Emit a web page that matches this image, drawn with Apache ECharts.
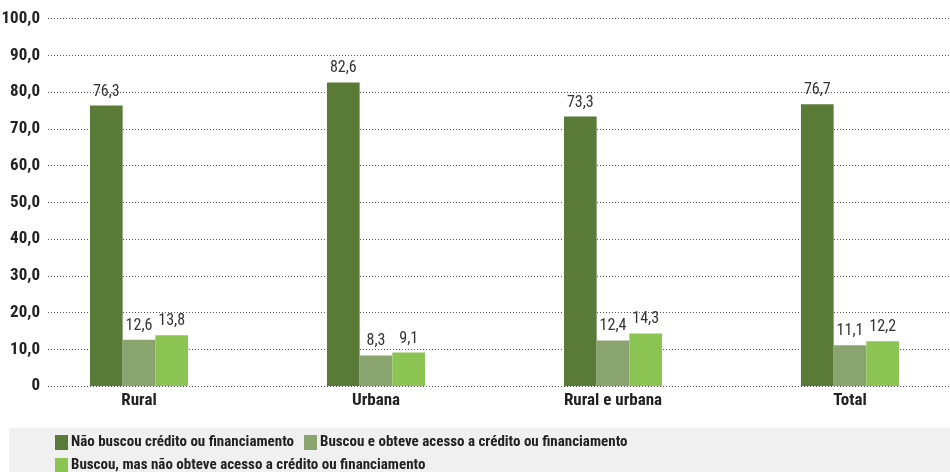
<!DOCTYPE html>
<html>
<head>
<meta charset="utf-8">
<script src="https://cdn.jsdelivr.net/npm/echarts@6/dist/echarts.min.js"></script>
<style>
html,body{margin:0;padding:0;background:#fff;}
#chart{width:950px;height:472px;}
</style>
</head>
<body>
<div id="chart"></div>
<script>
var categories = ['Rural', 'Urbana', 'Rural e urbana', 'Total'];
var seriesNames = [
  'Não buscou crédito ou financiamento',
  'Buscou e obteve acesso a crédito ou financiamento',
  'Buscou, mas não obteve acesso a crédito ou financiamento'
];
var naoBuscou = [76.3, 82.6, 73.3, 76.7];
var buscouObteve = [12.6, 8.3, 12.4, 11.1];
var buscouNaoObteve = [13.8, 9.1, 14.3, 12.2];
var yTickLabels = ['0', '10,0', '20,0', '30,0', '40,0', '50,0', '60,0', '70,0', '80,0', '90,0', '100,0'];

var colors = ['#5a7b38', '#8aa46f', '#8bc452'];
var FONT = '"Roboto Condensed", "Open Sans Condensed", sans-serif';

var chart = echarts.init(document.getElementById('chart'));
function fmt(v) { return v.toFixed(1).replace('.', ','); }
var seriesData = [naoBuscou, buscouObteve, buscouNaoObteve];

var legendBase = {
  left: 50, itemWidth: 13, itemHeight: 15, itemGap: 10, icon: 'rect',
  textStyle: { fontFamily: FONT, fontWeight: 'bold', fontSize: 15, color: '#222', padding: [0, 0, 0, -2] }
};

chart.setOption({
  animation: false,
  color: colors,
  graphic: [{
    type: 'rect', left: 9, top: 428, silent: true, z: -10,
    shape: { width: 941, height: 44 },
    style: { fill: '#eff0ef' }
  }],
  legend: [
    Object.assign({}, legendBase, { top: 430, data: [seriesNames[0], seriesNames[1]] }),
    Object.assign({}, legendBase, { top: 453, data: [seriesNames[2]] })
  ],
  grid: [
    { left: 48, right: 0, top: 18.5, height: 367.5, containLabel: false, outerBoundsMode: 'none' },
    { left: 20.5, width: 948, top: 18.5, height: 367.5, containLabel: false, outerBoundsMode: 'none' }
  ],
  xAxis: [
    { gridIndex: 0, type: 'value', show: false, min: 0, max: 1 },
    {
      gridIndex: 1, type: 'category', data: categories,
      axisLine: { show: false }, axisTick: { show: false },
      axisLabel: { margin: 6, fontFamily: FONT, fontWeight: 'bold', fontSize: 17, color: '#222' }
    }
  ],
  yAxis: [
    {
      gridIndex: 0, type: 'value', min: 0, max: 100, interval: 10,
      axisLine: { show: false }, axisTick: { show: false },
      splitLine: { show: true, lineStyle: { color: '#555', width: 1, type: [1, 2] } },
      axisLabel: {
        margin: 8, fontFamily: FONT, fontWeight: 'bold', fontSize: 17, color: '#222',
        formatter: function (v) { return yTickLabels[Math.round(v / 10)]; }
      }
    },
    {
      gridIndex: 1, type: 'value', min: 0, max: 100, interval: 10, show: false,
      splitLine: { show: false }
    }
  ],
  series: seriesData.map(function (d, i) {
    return {
      name: seriesNames[i], type: 'bar', xAxisIndex: 1, yAxisIndex: 1,
      data: d, barWidth: 32.7, barGap: '0%',
      label: {
        show: true, position: 'top', distance: 6,
        fontFamily: FONT, fontSize: 16, color: '#333',
        formatter: function (p) { return fmt(p.value); }
      }
    };
  })
});
</script>
</body>
</html>
